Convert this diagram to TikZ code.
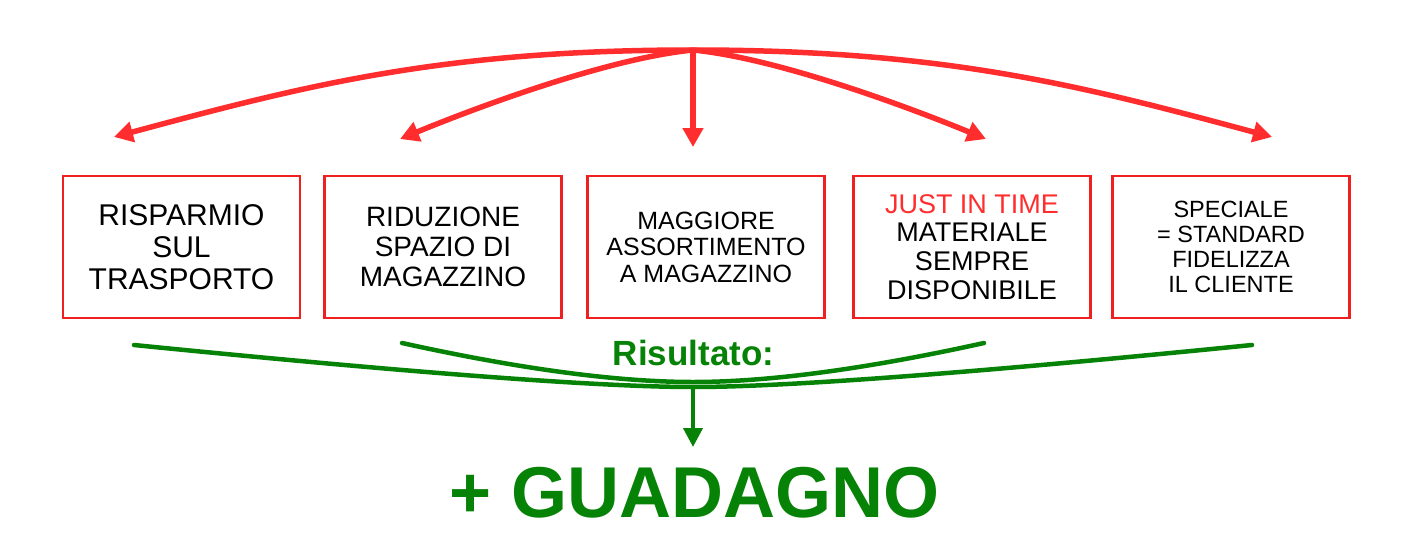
\documentclass[tikz,border=0pt]{standalone}
\usepackage{fontspec}
\setmainfont{Liberation Sans}
\usetikzlibrary{arrows.meta}
\definecolor{myred}{RGB}{255,45,45}
\definecolor{boxred}{RGB}{240,32,32}
\definecolor{mygreen}{RGB}{6,130,6}
\begin{document}
\begin{tikzpicture}[x=1pt,y=-1pt,
  box/.style={draw=boxred,line width=2.5pt,minimum width=237pt,minimum height=142pt,inner sep=0pt,align=center,text=black},
  redarrow/.style={draw=myred,line width=5.5pt,-{Triangle[length=19pt,width=20pt]}},
  greenline/.style={draw=mygreen,line width=4.5pt,line cap=round},
  greenarrow/.style={draw=mygreen,line width=4pt,-{Triangle[length=19pt,width=19pt]}},
  greentext/.style={text=mygreen,inner sep=0pt,anchor=base}]
\useasboundingbox (0,0) rectangle (1411,557);
% boxes
\node[box,font=\fontsize{30}{32}\selectfont] (b1) at (181.5,247) {RISPARMIO\\SUL\\TRASPORTO};
\node[box,font=\fontsize{28}{30}\selectfont] (b2) at (443,247) {RIDUZIONE\\SPAZIO DI\\MAGAZZINO};
\node[box,font=\fontsize{25}{26.5}\selectfont] (b3) at (706,247) {MAGGIORE\\ASSORTIMENTO\\A MAGAZZINO};
\node[box,font=\fontsize{27}{28.7}\selectfont] (b4) at (972,247) {\textcolor{myred}{JUST IN TIME}\\MATERIALE\\SEMPRE\\DISPONIBILE};
\node[box,font=\fontsize{23.5}{25}\selectfont] (b5) at (1231,247) {SPECIALE\\= STANDARD\\FIDELIZZA\\IL CLIENTE};
% red arrows
\coordinate (top) at (693,50);
\coordinate (t1) at (114,137);
\coordinate (t2) at (400,139);
\coordinate (t3) at (693,147);
\coordinate (t4) at (986,139);
\coordinate (t5) at (1272,137);
\draw[redarrow] (top) .. controls (443,50) and (307,85) .. (t1);
\draw[redarrow] (top) .. controls (610,58) and (480,106) .. (t2);
\draw[redarrow] (top) -- (t3);
\draw[redarrow] (top) .. controls (776,58) and (906,106) .. (t4);
\draw[redarrow] (top) .. controls (943,50) and (1079,85) .. (t5);
% green curves
\coordinate (gl) at (134,345);
\coordinate (gr) at (1252,345);
\coordinate (gb) at (693,387);
\coordinate (il) at (402,343);
\coordinate (ir) at (984,343);
\coordinate (ib) at (693,382);
\coordinate (gt) at (693,447);
\draw[greenline] (gl) .. controls (414,373) and (600,387) .. (gb) .. controls (786,387) and (972,373) .. (gr);
\draw[greenline] (il) .. controls (520,369) and (617,382) .. (ib) .. controls (769,382) and (866,369) .. (ir);
\draw[greenarrow] (gb) -- (gt);
\node[greentext,font=\fontsize{35}{40}\selectfont\bfseries] (res) at (693.5,365) {Risultato:};
\node[greentext,font=\fontsize{72}{80}\selectfont\bfseries] (gain) at (694.5,517) {+ GUADAGNO};
\end{tikzpicture}
\end{document}
